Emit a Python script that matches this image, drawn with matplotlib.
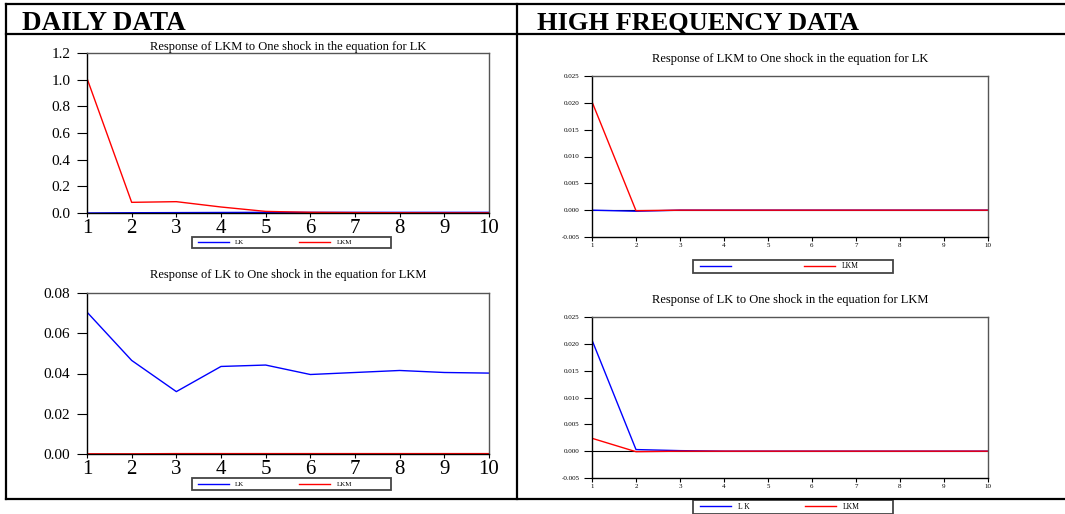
import matplotlib
matplotlib.use("Agg")
import matplotlib.pyplot as plt
from matplotlib.patches import Rectangle

plt.rcParams['font.family'] = ['Liberation Serif', 'DejaVu Serif']

W, H = 1065, 514

periods = [1, 2, 3, 4, 5, 6, 7, 8, 9, 10]

# daily data, shock to LK -> responses
daily_lk_shock_lk = [0.000, 0.002, 0.003, 0.004, 0.005, 0.005, 0.005, 0.005, 0.005, 0.005]
daily_lk_shock_lkm = [1.010, 0.080, 0.085, 0.045, 0.012, 0.005, 0.003, 0.002, 0.001, 0.001]
# daily data, shock to LKM -> responses
daily_lkm_shock_lk = [0.0705, 0.0465, 0.0310, 0.0435, 0.0442, 0.0395, 0.0405, 0.0415, 0.0405, 0.0402]
daily_lkm_shock_lkm = [0.0001, 0.0001, 0.0002, 0.0002, 0.0002, 0.0002, 0.0002, 0.0002, 0.0002, 0.0002]

# high frequency data
hf_lk_shock_lk = [0.0000, -0.0002, 0.0000, 0.0000, 0.0000, 0.0000, 0.0000, 0.0000, 0.0000, 0.0000]
hf_lk_shock_lkm = [0.0202, -0.0001, 0.0000, 0.0000, 0.0000, 0.0000, 0.0000, 0.0000, 0.0000, 0.0000]
hf_lkm_shock_lk = [0.0207, 0.0003, 0.0001, 0.0000, 0.0000, 0.0000, 0.0000, 0.0000, 0.0000, 0.0000]
hf_lkm_shock_lkm = [0.0024, -0.0001, 0.0000, 0.0000, 0.0000, 0.0000, 0.0000, 0.0000, 0.0000, 0.0000]

daily_yticks_top = [0.0, 0.2, 0.4, 0.6, 0.8, 1.0, 1.2]
daily_yticks_bot = [0.00, 0.02, 0.04, 0.06, 0.08]
hf_yticks = [-0.005, 0.000, 0.005, 0.010, 0.015, 0.020, 0.025]

title_lk = "Response of LKM to One shock in the equation for LK"
title_lkm = "Response of LK to One shock in the equation for LKM"


def px_axes(fig, x0, y0, x1, y1):
    # pixel box (top-left origin) -> figure fraction
    return fig.add_axes([x0 / W, 1 - y1 / H, (x1 - x0) / W, (y1 - y0) / H])


def style_axes(ax, xsize, ysize, ylen, xlen, ypad):
    for side in ['top', 'right']:
        ax.spines[side].set_color('#555555')
    for side in ['left', 'bottom']:
        ax.spines[side].set_color('black')
    for s in ax.spines.values():
        s.set_linewidth(1.0)
    ax.tick_params(axis='x', direction='out', length=xlen, width=0.8, labelsize=xsize, pad=1)
    ax.tick_params(axis='y', direction='out', length=ylen, width=0.8, labelsize=ysize, pad=ypad)
    ax.set_xlim(1, 10)
    ax.set_xticks(periods)


def px_legend(fig, bg, ax, handles, labels, box, x_start, size, spacing):
    x0, y0, x1, y1 = box
    bg.add_patch(Rectangle((x0, y0), x1 - x0, y1 - y0, fill=False,
                           edgecolor='#444444', lw=1.3))
    ax.legend(handles, labels, ncol=2, loc='center left',
              bbox_to_anchor=(x_start / W, 1 - (y0 + y1) / 2 / H),
              bbox_transform=fig.transFigure, fontsize=size, frameon=False,
              borderpad=0, handlelength=31 / (size * 100 / 72), handletextpad=0.9,
              borderaxespad=0, columnspacing=spacing)


fig = plt.figure(figsize=(W / 100, H / 100), dpi=100)

# table frame
bg = fig.add_axes([0, 0, 1, 1])
bg.set_xlim(0, W)
bg.set_ylim(H, 0)
bg.axis('off')
lw = 1.6
bg.plot([6, W], [4, 4], color='black', lw=lw)
bg.plot([6, W], [34, 34], color='black', lw=lw)
bg.plot([6, 6], [4, 499], color='black', lw=lw)
bg.plot([517, 517], [4, 499], color='black', lw=lw)
bg.plot([6, W], [499, 499], color='black', lw=lw)
bg.text(22, 30, "DAILY DATA", fontsize=19.5, fontweight='bold', va='baseline', ha='left')
bg.text(537, 30, "HIGH FREQUENCY DATA", fontsize=19, fontweight='bold', va='baseline', ha='left')

# --- daily, top
ax1 = px_axes(fig, 87, 53, 489, 213)
l1, = ax1.plot(periods, daily_lk_shock_lk, color='blue', lw=1.0)
l2, = ax1.plot(periods, daily_lk_shock_lkm, color='red', lw=1.0)
ax1.set_ylim(0, 1.2)
ax1.set_yticks(daily_yticks_top)
ax1.set_yticklabels(["%.1f" % v for v in daily_yticks_top])
style_axes(ax1, 15, 11, 7, 3, 5)
ax1.set_title(title_lk, fontsize=9, pad=1)
px_legend(fig, bg, ax1, [l1, l2], ["LK", "LKM"], (192, 237, 391, 248), 198, 5, 7.9)

# --- daily, bottom
ax2 = px_axes(fig, 87, 293, 489, 454)
l1, = ax2.plot(periods, daily_lkm_shock_lk, color='blue', lw=1.0)
l2, = ax2.plot(periods, daily_lkm_shock_lkm, color='red', lw=1.0)
ax2.set_ylim(0, 0.08)
ax2.set_yticks(daily_yticks_bot)
ax2.set_yticklabels(["%.2f" % v for v in daily_yticks_bot])
style_axes(ax2, 15, 11, 7, 3, 5)
ax2.set_title(title_lkm, fontsize=9, pad=11)
px_legend(fig, bg, ax2, [l1, l2], ["LK", "LKM"], (192, 478, 391, 490), 198, 5, 7.9)

# --- high frequency, top
ax3 = px_axes(fig, 592, 76, 988, 237)
ax3.axhline(0, color='black', lw=0.8)
l1, = ax3.plot(periods, hf_lk_shock_lk, color='blue', lw=1.0)
l2, = ax3.plot(periods, hf_lk_shock_lkm, color='red', lw=1.0)
ax3.set_ylim(-0.005, 0.025)
ax3.set_yticks(hf_yticks)
ax3.set_yticklabels(["%.3f" % v for v in hf_yticks])
style_axes(ax3, 5, 5, 6, 3, 3)
ax3.set_title(title_lk, fontsize=9, pad=10)
px_legend(fig, bg, ax3, [l1, l2], ["", "LKM"], (693, 260, 893, 273), 700, 5.5, 8.6)

# --- high frequency, bottom
ax4 = px_axes(fig, 592, 317, 988, 478)
ax4.axhline(0, color='black', lw=0.8)
l1, = ax4.plot(periods, hf_lkm_shock_lk, color='blue', lw=1.0)
l2, = ax4.plot(periods, hf_lkm_shock_lkm, color='red', lw=1.0)
ax4.set_ylim(-0.005, 0.025)
ax4.set_yticks(hf_yticks)
ax4.set_yticklabels(["%.3f" % v for v in hf_yticks])
style_axes(ax4, 5, 5, 6, 3, 3)
ax4.set_title(title_lkm, fontsize=9, pad=10)
px_legend(fig, bg, ax4, [l1, l2], ["L K", "LKM"], (693, 500, 893, 514), 700, 5.5, 7.2)

fig.savefig("out.png", dpi=100)
